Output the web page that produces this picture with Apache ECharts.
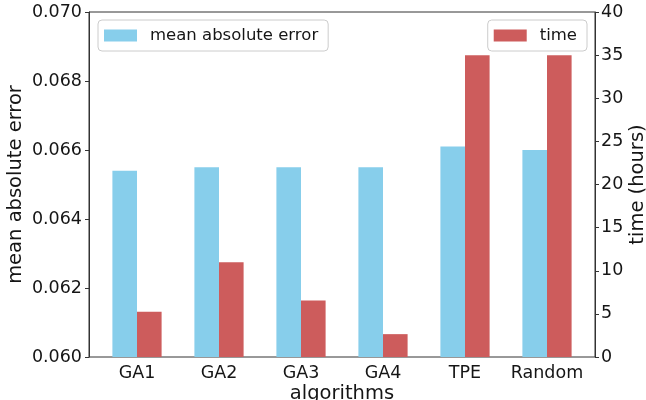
<!DOCTYPE html>
<html><head><meta charset="utf-8">
<script src="https://cdn.jsdelivr.net/npm/echarts@6/dist/echarts.min.js"></script>
<style>html,body{margin:0;padding:0;background:#fff}#c{width:646px;height:400px}</style>
</head><body><div id="c"></div>
<script>
const categories = ['GA1', 'GA2', 'GA3', 'GA4', 'TPE', 'Random'];
const maeValues = [0.0654, 0.0655, 0.0655, 0.0655, 0.0661, 0.0660];
const timeValues = [5.25, 11.0, 6.55, 2.65, 35.0, 35.0];
const maeTicks = [0.060, 0.070, 0.002];
const timeTicks = [0, 40, 5];

const font = 'DejaVu Sans';
const txt = '#151515';
const axisCol = '#333';
const chart = echarts.init(document.getElementById('c'));
chart.setOption({
  animation: false,
  textStyle: { fontFamily: font },
  grid: [
    { left: 96, right: 58, top: 12, bottom: 43, outerBoundsMode: 'none', containLabel: false },
    { left: 89, right: 51, top: 12, bottom: 43, outerBoundsMode: 'none', containLabel: false,
      show: true, borderColor: axisCol, borderWidth: 1, backgroundColor: 'transparent' }
  ],
  legend: [
    { data: ['mean absolute error'], left: 98, top: 20, icon: 'rect', itemWidth: 33, itemHeight: 12,
      padding: [7, 10, 7, 6], borderColor: '#ccc', borderWidth: 1, borderRadius: 4,
      textStyle: { fontSize: 16.5, color: txt, fontFamily: font, padding: [0, 0, 0, 8] } },
    { data: ['time'], right: 59, top: 20, icon: 'rect', itemWidth: 33, itemHeight: 12,
      padding: [7, 10, 7, 6], borderColor: '#ccc', borderWidth: 1, borderRadius: 4,
      textStyle: { fontSize: 16.5, color: txt, fontFamily: font, padding: [0, 0, 0, 8] } }
  ],
  xAxis: [
    { type: 'category', gridIndex: 0, data: categories,
      name: 'algorithms', nameLocation: 'middle', nameGap: 27, nameMoveOverlap: false,
      nameTextStyle: { fontSize: 19.5, color: txt, fontFamily: font },
      axisLine: { show: false },
      axisTick: { alignWithLabel: true, length: 4, lineStyle: { color: axisCol } },
      axisLabel: { interval: 0, fontSize: 17.5, color: txt, margin: 7, fontFamily: font } },
    { type: 'value', gridIndex: 1, show: false }
  ],
  yAxis: [
    { type: 'value', gridIndex: 0, position: 'left', offset: 7,
      min: maeTicks[0], max: maeTicks[1], interval: maeTicks[2],
      name: 'mean absolute error', nameLocation: 'middle', nameRotate: 90, nameGap: 63, nameMoveOverlap: false,
      nameTextStyle: { fontSize: 19.5, color: txt, fontFamily: font },
      axisLine: { show: true, lineStyle: { color: axisCol } },
      axisTick: { show: true, length: 4, lineStyle: { color: axisCol } },
      axisLabel: { fontSize: 17.5, color: txt, margin: 7, fontFamily: font, formatter: v => v.toFixed(3) },
      splitLine: { show: false } },
    { type: 'value', gridIndex: 0, position: 'right', offset: 7,
      min: timeTicks[0], max: timeTicks[1], interval: timeTicks[2],
      name: 'time (hours)', nameLocation: 'middle', nameRotate: 90, nameGap: 33, nameMoveOverlap: false,
      nameTextStyle: { fontSize: 19.5, color: txt, fontFamily: font },
      axisLine: { show: true, lineStyle: { color: axisCol } },
      axisTick: { show: true, length: 4, lineStyle: { color: axisCol } },
      axisLabel: { fontSize: 17.5, color: txt, margin: 6, fontFamily: font },
      splitLine: { show: false } },
    { type: 'value', gridIndex: 1, show: false }
  ],
  series: [
    { name: 'mean absolute error', type: 'bar', xAxisIndex: 0, yAxisIndex: 0,
      data: maeValues, barWidth: '30%', barGap: '0%',
      itemStyle: { color: '#87CEEB' } },
    { name: 'time', type: 'bar', xAxisIndex: 0, yAxisIndex: 1,
      data: timeValues, barWidth: '30%', barGap: '0%',
      itemStyle: { color: '#CD5C5C' } }
  ]
});
</script></body></html>
